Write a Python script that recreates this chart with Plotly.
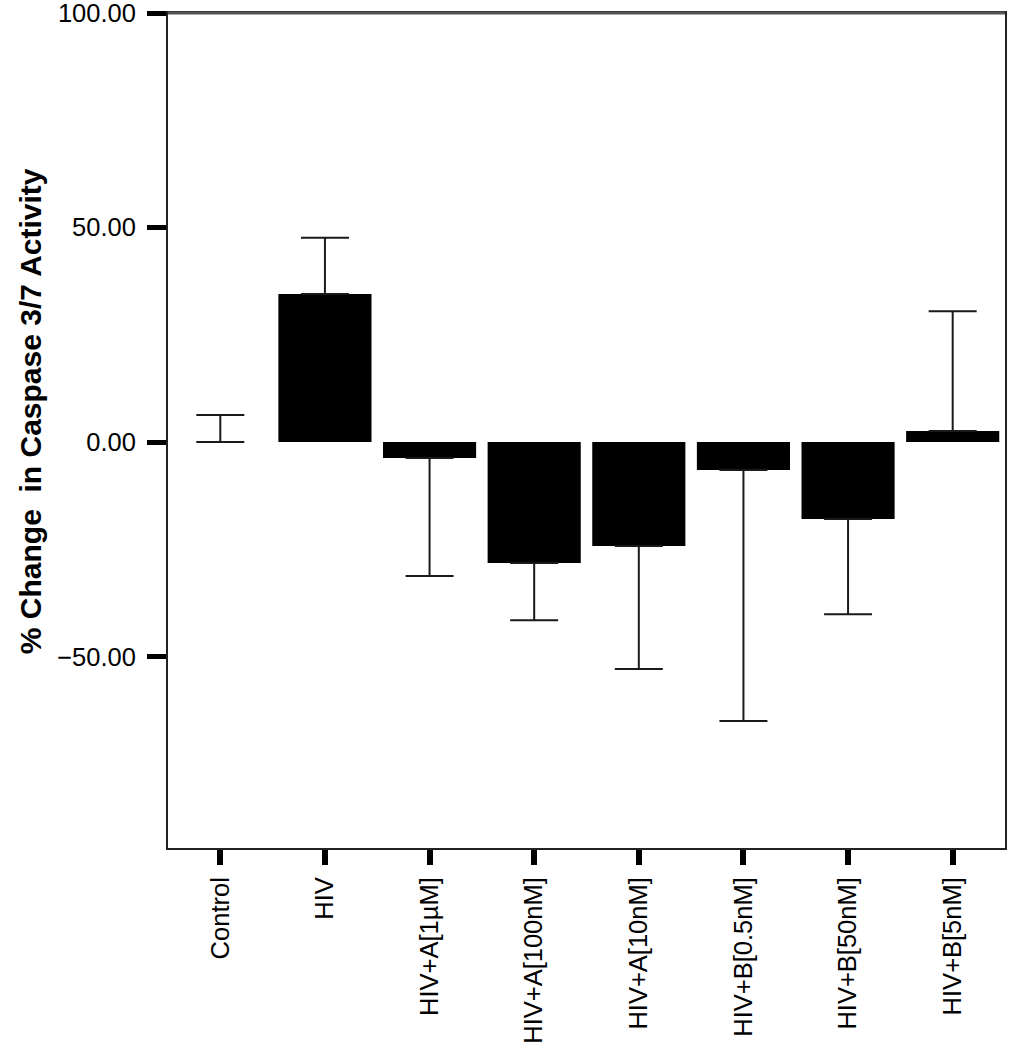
import plotly.graph_objects as go

categories = ["Control", "HIV", "HIV+A[1\u00b5M]", "HIV+A[100nM]", "HIV+A[10nM]",
              "HIV+B[0.5nM]", "HIV+B[50nM]", "HIV+B[5nM]"]
means = [0.0, 34.5, -3.7, -28.2, -24.2, -6.5, -17.9, 2.6]
errors = [6.3, 13.1, 27.5, 13.3, 28.7, 58.5, 22.2, 27.9]
y_ticks = [-50, 0, 50, 100]

err_up = [e if m >= 0 else 0 for m, e in zip(means, errors)]
err_down = [0 if m >= 0 else e for m, e in zip(means, errors)]

FONT = "Liberation Sans, Arial, Helvetica, sans-serif"

fig = go.Figure()
fig.add_trace(go.Bar(
    x=list(range(len(categories))),
    y=means,
    width=0.89,
    marker=dict(color="black", line=dict(width=0)),
    error_y=dict(type="data", symmetric=False, array=err_up, arrayminus=err_down,
                 color="#1a1a1a", thickness=2, width=24),
))

fig.update_layout(
    width=1011, height=1050,
    margin=dict(l=168, r=6, t=13, b=202, autoexpand=False),
    paper_bgcolor="white", plot_bgcolor="white",
    showlegend=False,
    font=dict(family=FONT, color="black", size=25),
    xaxis=dict(
        range=[-0.5, 7.5],
        tickmode="array", tickvals=list(range(len(categories))), ticktext=categories,
        tickangle=-90,
        ticks="outside", ticklen=15, tickwidth=6, tickcolor="black",
        ticklabelstandoff=2,
        showline=True, linecolor="#222", linewidth=2, mirror=True,
        showgrid=False, zeroline=False,
        tickfont=dict(size=25.5),
    ),
    yaxis=dict(
        range=[-94.6, 100],
        tickmode="array", tickvals=y_ticks, tickformat=".2f",
        ticks="outside", ticklen=19, tickwidth=5, tickcolor="black",
        ticklabelstandoff=6, ticklabeloverflow="allow",
        showline=True, linecolor="#222", linewidth=2, mirror=True,
        showgrid=False, zeroline=False,
        tickfont=dict(size=25.5),
    ),
    shapes=[dict(type="line", xref="paper", yref="paper", x0=0, x1=1, y0=1, y1=1,
                 line=dict(color="#555", width=3), layer="above")],
    annotations=[dict(
        text="<b>% Change  in Caspase 3/7 Activity</b>",
        xref="paper", yref="paper", x=-0.165, y=0.523,
        xanchor="center", yanchor="middle", textangle=-90,
        showarrow=False, font=dict(size=30, family=FONT, color="black"),
    )],
)

fig.write_html("out.html", config={"displayModeBar": False},
               post_script="document.body.style.margin='0';")
